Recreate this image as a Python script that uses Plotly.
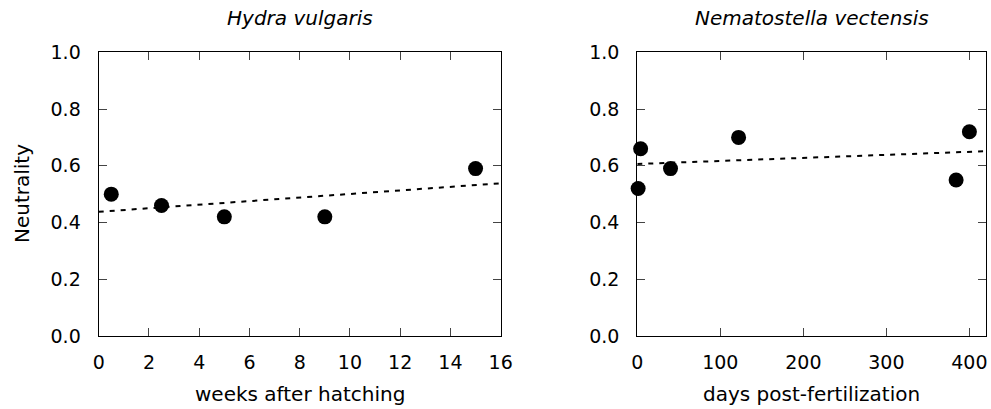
import numpy as np
import plotly.graph_objects as go

# Data
hydra_weeks = [0.5, 2.5, 5, 9, 15]
hydra_neutrality = [0.50, 0.46, 0.42, 0.42, 0.59]
nema_days = [1, 4, 40, 122, 384, 400]
nema_neutrality = [0.52, 0.66, 0.59, 0.70, 0.55, 0.72]

hydra_title = "Hydra vulgaris"
nema_title = "Nematostella vectensis"
hydra_xlabel = "weeks after hatching"
nema_xlabel = "days post-fertilization"
ylabel = "Neutrality"

hydra_xrange = [0, 16]
nema_xrange = [0, 420]

FONT = "DejaVu Sans"

fig = go.Figure()

def add_panel(x, y, xr, xa, ya):
    fig.add_trace(go.Scatter(x=x, y=y, mode="markers",
                             marker=dict(size=15, color="black"),
                             xaxis=xa, yaxis=ya, showlegend=False, cliponaxis=False))
    slope, intercept = np.polyfit(x, y, 1)
    lx = np.array(xr, dtype=float)
    fig.add_trace(go.Scatter(x=lx, y=intercept + slope * lx, mode="lines",
                             line=dict(color="black", width=2, dash="5px,6px"),
                             xaxis=xa, yaxis=ya, showlegend=False))

add_panel(hydra_weeks, hydra_neutrality, hydra_xrange, "x", "y")
add_panel(nema_days, nema_neutrality, nema_xrange, "x2", "y2")

ybottom, ytop = 1 - 336 / 409, 1 - 52.3 / 409
common_axis = dict(showgrid=False, zeroline=False, showline=True, linecolor="black",
                   linewidth=1.3, mirror="ticks", ticks="inside", ticklen=8,
                   tickcolor="#444", tickwidth=1, automargin=False,
                   tickfont=dict(family=FONT, size=19, color="black"))

fig.update_layout(
    width=991, height=409,
    margin=dict(l=0, r=0, t=0, b=0, autoexpand=False),
    plot_bgcolor="white", paper_bgcolor="white",
    xaxis=dict(domain=[98.7 / 991, 500.7 / 991], range=hydra_xrange, dtick=2,
               ticklabelstandoff=9, **common_axis),
    yaxis=dict(domain=[ybottom, ytop], range=[0, 1], dtick=0.2, tickformat=".1f",
               ticklabelstandoff=13, **common_axis),
    xaxis2=dict(domain=[637.3 / 991, 986 / 991], range=nema_xrange, dtick=100,
                ticklabelstandoff=9, anchor="y2", **common_axis),
    yaxis2=dict(domain=[ybottom, ytop], range=[0, 1], dtick=0.2, tickformat=".1f",
                ticklabelstandoff=13, anchor="x2", **common_axis),
)

ann_font = dict(family=FONT, size=20, color="black")
title_font = dict(family=FONT, size=20, color="black")
fig.add_annotation(text="<i>" + hydra_title + "</i>", x=299.7 / 991, y=1 - 18 / 409,
                   xref="paper", yref="paper", showarrow=False, font=title_font,
                   xanchor="center", yanchor="middle")
fig.add_annotation(text="<i>" + nema_title + "</i>", x=811.7 / 991, y=1 - 18 / 409,
                   xref="paper", yref="paper", showarrow=False, font=title_font,
                   xanchor="center", yanchor="middle")
fig.add_annotation(text=hydra_xlabel, x=299.7 / 991, y=1 - 394 / 409,
                   xref="paper", yref="paper", showarrow=False, font=ann_font,
                   xanchor="center", yanchor="middle")
fig.add_annotation(text=nema_xlabel, x=811.7 / 991, y=1 - 394 / 409,
                   xref="paper", yref="paper", showarrow=False, font=ann_font,
                   xanchor="center", yanchor="middle")
fig.add_annotation(text=ylabel, x=22 / 991, y=1 - 194 / 409, textangle=-90,
                   xref="paper", yref="paper", showarrow=False, font=ann_font,
                   xanchor="center", yanchor="middle")

fig.write_html("out.html")
